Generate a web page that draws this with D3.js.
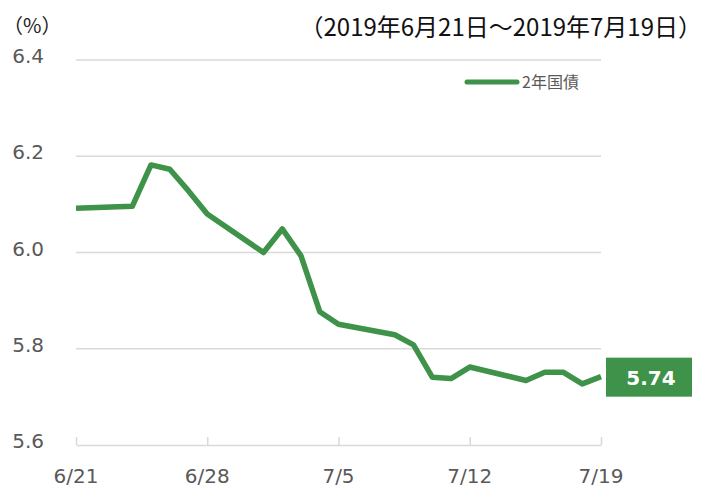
<!DOCTYPE html>
<html>
<head>
<meta charset="utf-8">
<script src="https://cdn.jsdelivr.net/npm/d3@7"></script>
<style>
  body { margin: 0; background: #fff; }
  .tick-label { font-family: "DejaVu Sans", Verdana, sans-serif; font-size: 20px; fill: #595959; }
  .jp { font-family: "Noto Sans CJK JP", sans-serif; }
</style>
</head>
<body>
<div id="chart"></div>
<script>
// 2年国債 yields, trading days only
const dates = ["2019-06-21", "2019-06-24", "2019-06-25", "2019-06-26", "2019-06-27", "2019-06-28",
    "2019-07-01", "2019-07-02", "2019-07-03", "2019-07-04", "2019-07-05",
    "2019-07-08", "2019-07-09", "2019-07-10", "2019-07-11", "2019-07-12",
    "2019-07-15", "2019-07-16", "2019-07-17", "2019-07-18", "2019-07-19"];
const yields = [6.092, 6.096, 6.182, 6.173, 6.128, 6.080,
    6.000, 6.049, 5.993, 5.877, 5.851,
    5.829, 5.808, 5.741, 5.738, 5.762,
    5.734, 5.751, 5.751, 5.727, 5.742];
const yTicks = [5.6, 5.8, 6.0, 6.2, 6.4];
const xTickLabels = ["2019-06-21", "2019-06-28", "2019-07-05", "2019-07-12", "2019-07-19"];
const seriesName = "2年国債";
const lastLabel = "5.74";

const width = 702, height = 488;
const margin = { top: 60, right: 101, bottom: 43, left: 76 };

const parseDate = d3.timeParse("%Y-%m-%d");
const data = dates.map((d, i) => ({ date: parseDate(d), value: yields[i] }));
const green = "#3f9249";

const svg = d3.select("#chart")
    .append("svg")
    .attr("width", width)
    .attr("height", height);

const x = d3.scaleTime()
    .domain([parseDate(dates[0]), parseDate(dates[dates.length - 1])])
    .range([margin.left, width - margin.right]);

const y = d3.scaleLinear()
    .domain([5.6, 6.4])
    .range([height - margin.bottom, margin.top]);

// gridlines
svg.append("g")
    .selectAll("line")
    .data(yTicks.slice(1))
    .enter()
    .append("line")
    .attr("x1", x.range()[0])
    .attr("x2", x.range()[1])
    .attr("y1", d => y(d))
    .attr("y2", d => y(d))
    .attr("stroke", "#d9d9d9")
    .attr("stroke-width", 1.5);

// y labels
svg.append("g")
    .selectAll("text")
    .data(yTicks)
    .enter()
    .append("text")
    .attr("class", "tick-label")
    .attr("x", 44)
    .attr("y", d => y(d) + 3)
    .attr("text-anchor", "end")
    .text(d => d.toFixed(1));

// x axis (ticks point upward)
const xAxis = svg.append("g")
    .attr("transform", `translate(0, ${y(5.6)})`)
    .call(d3.axisTop(x)
        .tickValues(xTickLabels.map(parseDate))
        .tickSize(8)
        .tickSizeOuter(0)
        .tickFormat(""));
xAxis.select(".domain").attr("stroke", "#d9d9d9").attr("stroke-width", 1.5);
xAxis.selectAll(".tick line").attr("stroke", "#d9d9d9").attr("stroke-width", 1.5);

svg.append("g")
    .selectAll("text")
    .data(xTickLabels)
    .enter()
    .append("text")
    .attr("class", "tick-label")
    .attr("x", d => x(parseDate(d)))
    .attr("y", 483)
    .attr("text-anchor", "middle")
    .text(d => d3.timeFormat("%-m/%-d")(parseDate(d)));

// line
const line = d3.line()
    .x(d => x(d.date))
    .y(d => y(d.value));

svg.append("path")
    .datum(data)
    .attr("fill", "none")
    .attr("stroke", green)
    .attr("stroke-width", 5.5)
    .attr("stroke-linejoin", "round")
    .attr("d", line);

// last value label
const last = data[data.length - 1];
svg.append("rect")
    .attr("x", 606)
    .attr("y", y(last.value) - 19)
    .attr("width", 86)
    .attr("height", 39)
    .attr("fill", green);

svg.append("text")
    .attr("x", 651)
    .attr("y", y(last.value) + 8)
    .attr("text-anchor", "middle")
    .attr("fill", "#fff")
    .style("font-family", "\"DejaVu Sans\", Verdana, sans-serif")
    .style("font-weight", "bold")
    .style("font-size", "20px")
    .text(lastLabel);

// legend
svg.append("line")
    .attr("x1", 467).attr("x2", 517)
    .attr("y1", 82).attr("y2", 82)
    .attr("stroke", green)
    .attr("stroke-width", 5)
    .attr("stroke-linecap", "round");

svg.append("text")
    .attr("class", "jp")
    .attr("x", 522)
    .attr("y", 88)
    .attr("fill", "#595959")
    .style("font-size", "16px")
    .text(seriesName);

// unit and period
svg.append("text")
    .attr("class", "jp")
    .attr("x", 3)
    .attr("y", 33)
    .attr("fill", "#222")
    .style("font-size", "20px")
    .text("（%）");

svg.append("text")
    .attr("class", "jp")
    .attr("x", 702)
    .attr("y", 36)
    .attr("text-anchor", "end")
    .attr("fill", "#111")
    .style("font-size", "24px")
    .text("（2019年6月21日～2019年7月19日）");
</script>
</body>
</html>
